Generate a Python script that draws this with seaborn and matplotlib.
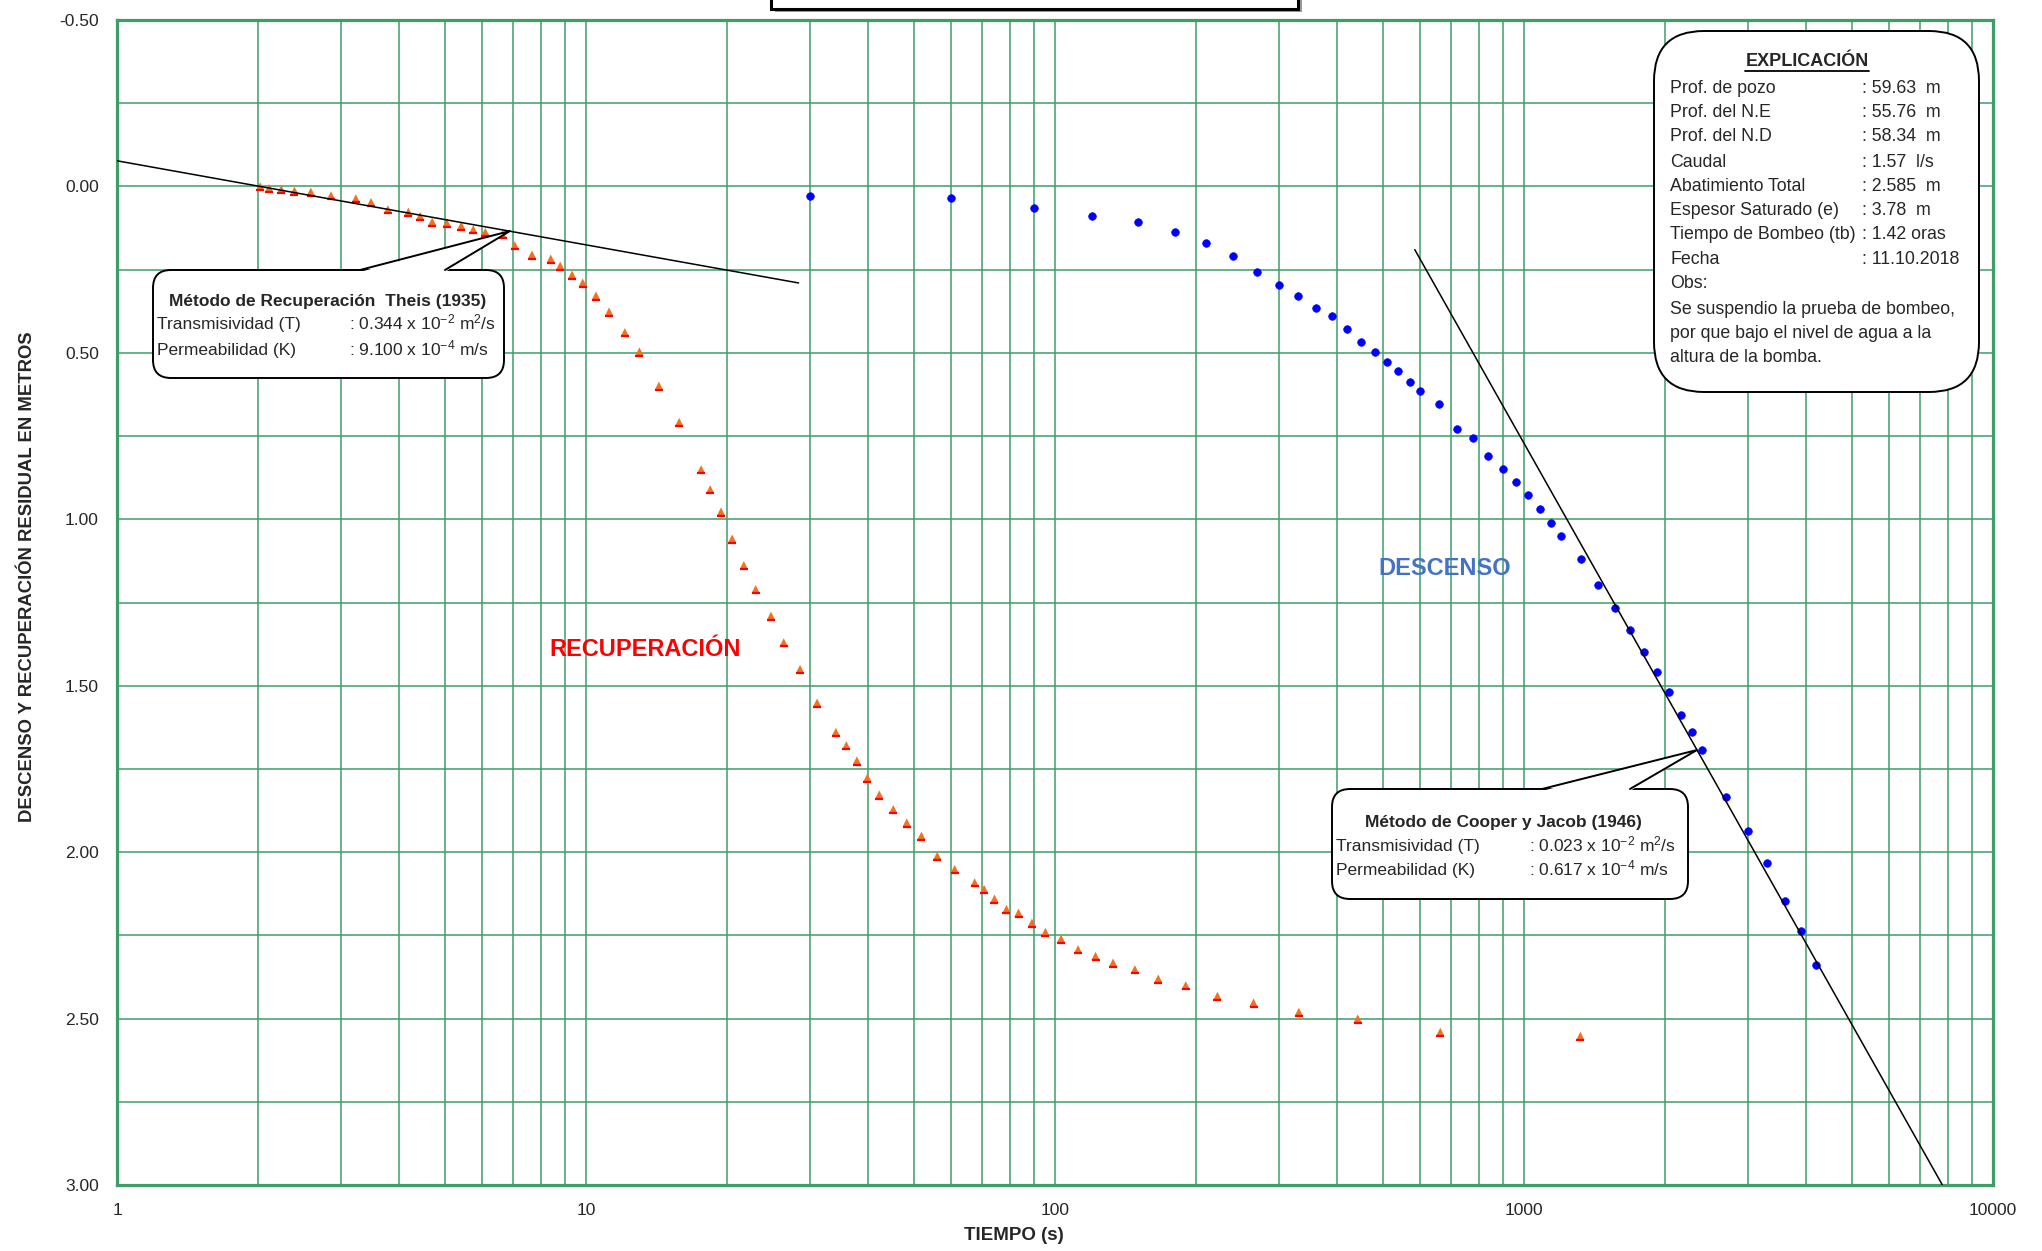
import numpy as np
import pandas as pd
import matplotlib
matplotlib.use('Agg')
import matplotlib.pyplot as plt
import seaborn as sns
from matplotlib.patches import FancyBboxPatch, Polygon, Rectangle
from matplotlib.lines import Line2D
from matplotlib.path import Path
from matplotlib.markers import MarkerStyle
from matplotlib.transforms import Affine2D
from matplotlib.ticker import NullFormatter

# Recuperacion (Theis): relacion de tiempos vs recuperacion residual (m)
rec_t = [2.02, 2.11, 2.24, 2.39, 2.59, 2.86, 3.23, 3.48, 3.78, 4.18, 4.43, 4.70,
         5.05, 5.42, 5.75, 6.10, 6.64, 7.05, 7.67, 8.41, 8.81, 9.34, 9.84, 10.5,
         11.2, 12.1, 13.0, 14.3, 15.8, 17.6, 18.4, 19.4, 20.5, 21.7, 23.0, 24.8,
         26.4, 28.6, 31.1, 34.1, 35.9, 37.8, 39.8, 42.2, 45.2, 48.3, 51.9, 56.1,
         61.1, 67.4, 70.6, 74.3, 78.8, 83.6, 89.3, 95.4, 103, 112, 122, 133, 148,
         166, 190, 222, 265, 331, 442, 663, 1319]
rec_d = [0.000, 0.005, 0.008, 0.013, 0.016, 0.027, 0.036, 0.047, 0.069, 0.076,
         0.089, 0.106, 0.109, 0.118, 0.129, 0.137, 0.144, 0.177, 0.205, 0.217,
         0.238, 0.265, 0.289, 0.328, 0.376, 0.438, 0.496, 0.599, 0.708, 0.850,
         0.910, 0.977, 1.058, 1.138, 1.210, 1.290, 1.370, 1.450, 1.551, 1.639,
         1.679, 1.725, 1.776, 1.827, 1.871, 1.911, 1.951, 2.011, 2.051, 2.091,
         2.111, 2.140, 2.171, 2.182, 2.212, 2.240, 2.260, 2.292, 2.312, 2.332,
         2.352, 2.380, 2.400, 2.432, 2.452, 2.480, 2.500, 2.540, 2.552]

# Descenso: tiempo (s) vs descenso (m)
desc_t = [30, 60, 90, 120, 150, 180, 210, 240, 270, 300, 330, 360, 390, 420,
          450, 480, 510, 540, 570, 600, 660, 720, 780, 840, 900, 960, 1020, 1080,
          1140, 1200, 1320, 1440, 1560, 1680, 1800, 1920, 2040, 2160, 2280, 2400,
          2700, 3000, 3300, 3600, 3900, 4200]
desc_d = [0.028, 0.036, 0.064, 0.088, 0.108, 0.136, 0.169, 0.209, 0.257, 0.297,
          0.329, 0.365, 0.389, 0.429, 0.468, 0.497, 0.528, 0.555, 0.588, 0.615,
          0.655, 0.729, 0.756, 0.809, 0.849, 0.889, 0.928, 0.969, 1.010, 1.050,
          1.118, 1.197, 1.268, 1.333, 1.398, 1.458, 1.518, 1.588, 1.639, 1.694,
          1.835, 1.936, 2.034, 2.148, 2.238, 2.339]

# rectas de ajuste
theis_t = [1, 28.4]
theis_d = [-0.077, 0.29]
cj_t = [585, 7800]
cj_d = [0.19, 3.0]

y_ticks = [-0.50, 0.00, 0.50, 1.00, 1.50, 2.00, 2.50, 3.00]
y_minor = [-0.25, 0.25, 0.75, 1.25, 1.75, 2.25, 2.75]
x_ticks = [1, 10, 100, 1000, 10000]
x_labels = ['1', '10', '100', '1000', '10000']

expl_rows = [("Prof. de pozo", ": 59.63  m"),
             ("Prof. del N.E", ": 55.76  m"),
             ("Prof. del N.D", ": 58.34  m"),
             ("Caudal", ": 1.57  l/s"),
             ("Abatimiento Total", ": 2.585  m"),
             ("Espesor Saturado (e)", ": 3.78  m"),
             ("Tiempo de Bombeo (tb)", ": 1.42 oras"),
             ("Fecha", ": 11.10.2018")]
obs_lines = ["Obs:",
             "Se suspendio la prueba de bombeo,",
             "por que bajo el nivel de agua a la",
             "altura de la bomba."]

GREEN = '#3E9E68'
W, H = 2042, 1251

sns.set_style('white')
plt.rcParams['font.family'] = ['Liberation Sans', 'DejaVu Sans']
plt.rcParams['mathtext.default'] = 'regular'

fig, ax = plt.subplots(figsize=(W / 100, H / 100), dpi=100)
fig.subplots_adjust(left=117 / W, right=1993 / W, bottom=1 - 1185 / H, top=1 - 20 / H)

rec = pd.DataFrame({'t': rec_t, 'd': rec_d})
desc = pd.DataFrame({'t': desc_t, 'd': desc_d})

# puntos de recuperacion (triangulo naranja con base roja)
sns.scatterplot(data=rec, x='t', y='d', marker='^', s=36, color='#F37021',
                edgecolor='none', linewidth=0, ax=ax, zorder=3)
base = MarkerStyle(Path([(-1, -1), (1, -1)], [Path.MOVETO, Path.LINETO]))
sns.scatterplot(data=rec, x='t', y='d', marker=base, s=36, color='#FF0000',
                edgecolor='#FF0000', linewidth=1.6, ax=ax, zorder=3)
# puntos de descenso
sns.scatterplot(data=desc, x='t', y='d', marker='o', s=30, color='#0000FF',
                edgecolor='#0000FF', linewidth=0.5, ax=ax, zorder=3)

ax.plot(theis_t, theis_d, color='black', lw=1.1, zorder=4)
ax.plot(cj_t, cj_d, color='black', lw=1.1, zorder=4)

ax.set_xscale('log')
ax.set_xlim(1, 10000)
ax.set_ylim(3.0, -0.5)
ax.set_xticks(x_ticks)
ax.set_xticklabels(x_labels)
ax.xaxis.set_minor_formatter(NullFormatter())
ax.set_yticks(y_ticks)
ax.set_yticklabels([f'{v:.2f}' for v in y_ticks])
ax.set_yticks(y_minor, minor=True)

ax.grid(True, which='both', color=GREEN, linewidth=1.1)
ax.set_axisbelow(True)
for sp in ax.spines.values():
    sp.set_color(GREEN)
    sp.set_linewidth(2.3)

ax.tick_params(axis='y', which='major', length=4, color=GREEN, width=1.2,
               labelsize=12.5, pad=9)
ax.tick_params(axis='y', which='minor', length=0)
ax.tick_params(axis='x', which='both', length=0, labelsize=12.5, pad=13)

ax.set_xlabel('TIEMPO (s)', fontsize=13.5, fontweight='bold')
ax.xaxis.set_label_coords(0.478, -0.036)
ax.set_ylabel('DESCENSO Y RECUPERACIÓN RESIDUAL EN METROS', fontsize=13.3,
              fontweight='bold')
ax.yaxis.set_label_coords(-0.043, 0.522)

ax.text(13.4, 1.392, 'RECUPERACIÓN', color='#FF0000', fontsize=17,
        fontweight='bold', ha='center', va='center', zorder=5)
ax.text(679, 1.149, 'DESCENSO', color='#4472C4', fontsize=17,
        fontweight='bold', ha='center', va='center', zorder=5)

# coordenadas en pixeles (origen arriba a la izquierda)
pix = Affine2D().scale(1 / W, -1 / H).translate(0, 1) + fig.transFigure


def callout(x0, y0, x1, y1, p0, p1, tip, rs):
    fig.add_artist(FancyBboxPatch((x0, y0), x1 - x0, y1 - y0,
                                  boxstyle=f'round,pad=0,rounding_size={rs}',
                                  transform=pix, fc='white', ec='black',
                                  lw=1.4, zorder=5))
    if tip is not None:
        fig.add_artist(Polygon([(p0, y0 + 2), tip, (p1, y0 + 2)], closed=True,
                               transform=pix, fc='white', ec='none', zorder=6))
        fig.add_artist(Line2D([p0, tip[0], p1], [y0, tip[1], y0], color='black',
                              lw=1.4, transform=pix, zorder=7))


def ptext(x, y, s, **kw):
    # y = centro de las mayusculas; se dibuja sobre la linea base
    kw.setdefault('fontsize', 12.5)
    return fig.text(x / W, 1 - (y + 6) / H, s, zorder=8, va='baseline', **kw)


# caja de titulo (cortada arriba)
fig.add_artist(Rectangle((775, -40), 527, 52, transform=pix, fc='#9a9a9a',
                         ec='none', zorder=4))
fig.add_artist(Rectangle((771, -40), 527, 49, transform=pix, fc='white',
                         ec='black', lw=2.2, zorder=5))

# Theis
callout(153, 270, 504, 378, 360, 445, (510, 231), 18)
ptext(328, 300, 'Método de Recuperación  Theis (1935)', fontweight='bold', ha='center')
ptext(157, 323, 'Transmisividad (T)')
ptext(349, 323, ': 0.344 x 10$^{-2}$ m$^{2}$/s')
ptext(157, 349, 'Permeabilidad (K)')
ptext(349, 349, ': 9.100 x 10$^{-4}$ m/s')

# Cooper y Jacob
callout(1332, 789, 1688, 899, 1542, 1630, (1697, 750), 18)
ptext(1503, 821, 'Método de Cooper y Jacob (1946)', fontweight='bold', ha='center')
ptext(1336, 845, 'Transmisividad (T)')
ptext(1529, 845, ': 0.023 x 10$^{-2}$ m$^{2}$/s')
ptext(1336, 869, 'Permeabilidad (K)')
ptext(1529, 869, ': 0.617 x 10$^{-4}$ m/s')

# Explicacion
callout(1654, 31, 1979, 392, None, None, None, 50)
t_title = ptext(1807, 60, 'EXPLICACIÓN', fontweight='bold', ha='center', fontsize=13)
row_y = [87, 111, 135, 161, 185, 209, 233, 258]
for (lab, val), yy in zip(expl_rows, row_y):
    ptext(1670, yy, lab, fontsize=12.8)
    ptext(1862, yy, val, fontsize=12.8)
for s, yy in zip(obs_lines, [282, 308, 332, 356]):
    ptext(1670, yy, s, fontsize=12.8)

fig.canvas.draw()
bb = t_title.get_window_extent().transformed(fig.transFigure.inverted())
fig.add_artist(Line2D([bb.x0, bb.x1], [bb.y0 - 1 / H, bb.y0 - 1 / H],
                      color='black', lw=1.3, transform=fig.transFigure, zorder=8))

fig.savefig('out.png', dpi=100)
